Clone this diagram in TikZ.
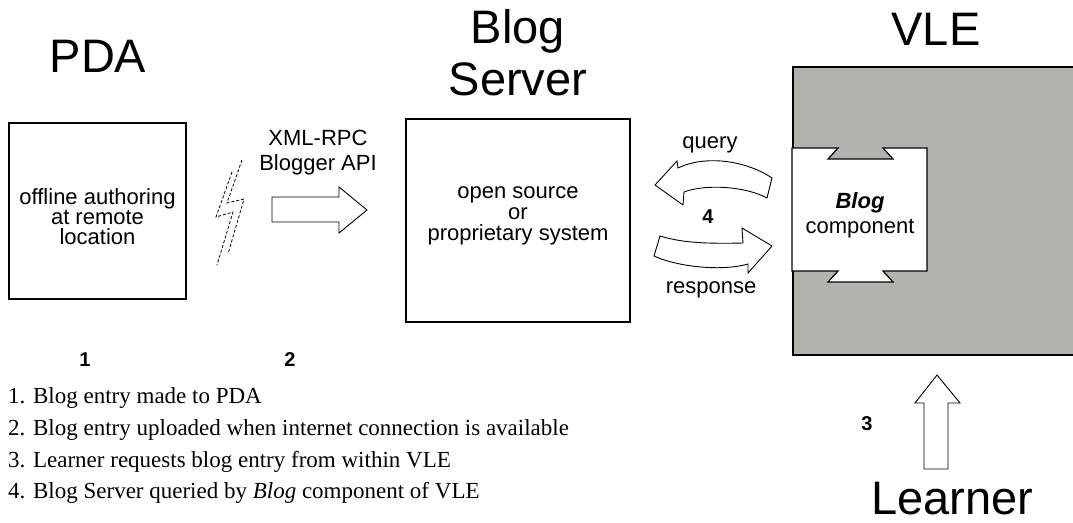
\documentclass[tikz,border=0pt]{standalone}
\usepackage{fontspec}
\setmainfont{Liberation Serif}
\setsansfont{Liberation Sans}
\begin{document}
\begin{tikzpicture}[x=1pt,y=-1pt,
  title/.style={font=\sffamily\fontsize{47}{52}\selectfont, anchor=base, inner sep=0pt},
  lbl/.style={font=\sffamily\fontsize{22}{24}\selectfont, anchor=base, inner sep=0pt},
  num/.style={font=\sffamily\bfseries\fontsize{20}{22}\selectfont, anchor=base, inner sep=0pt},
  listitem/.style={font=\rmfamily\fontsize{23}{25}\selectfont, anchor=base west, inner sep=0pt},
  boxst/.style={draw=black, line width=1.2pt, inner sep=0pt},
  arr/.style={draw=black, line width=0.9pt, fill=white, line join=miter},
  bolt/.style={draw=black, line width=0.8pt, dash pattern=on 3pt off 2pt}]
\clip (0,0) rectangle (1073,522);
\fill[white] (0,0) rectangle (1073,522);
% titles
\node[title] (tpda) at (98,72) {PDA};
\node[title] (tblog) at (518,43) {Blog};
\node[title] (tserv) at (518,95) {Server};
\node[title] (tvle) at (936,45) {VLE};
\node[title] (tlearn) at (952,514) {Learner};
% PDA box
\node[boxst, minimum width=177pt, minimum height=176pt] (pda) at (97.5,211) {};
\node[lbl] at (97.5,204) {offline authoring};
\node[lbl] at (97.5,224) {at remote};
\node[lbl] at (97.5,244) {location};
% server box
\node[boxst, minimum width=224pt, minimum height=203pt] (server) at (518,220.5) {};
\node[lbl] at (518,198) {open source};
\node[lbl] at (518,219) {or};
\node[lbl] at (518,240) {proprietary system};
% VLE box
\fill[fill={rgb,255:red,178;green,178;blue,175}, draw=black, line width=1.2pt] (793,67) rectangle (1080,355);
\coordinate (vle) at (936,211);
% blog component
\draw[boxst, fill=white] (792,148)--(838,148)--(828,159)--(893,159)--(883,148)--(927,148)--(927,271)--(883,271)--(893,282)--(828,282)--(838,271)--(792,271)--cycle;
\node[lbl, font=\sffamily\bfseries\itshape\fontsize{22}{24}\selectfont] (comp) at (860,208) {Blog};
\node[lbl] at (860,233) {component};
% XML-RPC
\node[lbl] (xml) at (318,145) {XML-RPC};
\node[lbl] at (318,170) {Blogger API};
% lightning
\draw[bolt] (242,160)--(227,203)--(244,199)--(228,254);
\draw[bolt] (232,172)--(216,217)--(233,212)--(217,265);
% block arrow right
\draw[arr] (272,197)--(339,197)--(339,187)--(367,210)--(339,233)--(339,222)--(272,222)--cycle;
% query arrow (left)
\node[lbl] (query) at (710,148) {query};
\draw[arr] (655,185) -- (677,161) -- (678,168) .. controls (705,155) and (745,160) .. (772,178) -- (767,198) .. controls (745,186) and (705,184) .. (684,192) -- (683,205) -- cycle;
\node[num] (four) at (708,223) {4};
% response arrow (right)
\draw[arr] (772,246) -- (742,228) -- (743,243) .. controls (700,244) and (680,242) .. (660,236) -- (654,256) .. controls (675,266) and (720,272) .. (748,264) -- (748,273) -- cycle;
\node[lbl] (resp) at (711,293) {response};
% numbers
\node[num] (n1) at (85,366) {1};
\node[num] (n2) at (290,366) {2};
\node[num] (n3) at (867,430) {3};
% up arrow
\draw[arr] (924,469)--(924,403)--(915,403)--(937,375)--(960,403)--(948,403)--(948,469)--cycle;
% list
\node[listitem] at (8,403) {1. Blog entry made to PDA};
\node[listitem] at (8,435) {2. Blog entry uploaded when internet connection is available};
\node[listitem] at (8,467) {3. Learner requests blog entry from within VLE};
\node[listitem] at (8,498) {4. Blog Server queried by \textit{Blog} component of VLE};
\end{tikzpicture}
\end{document}
